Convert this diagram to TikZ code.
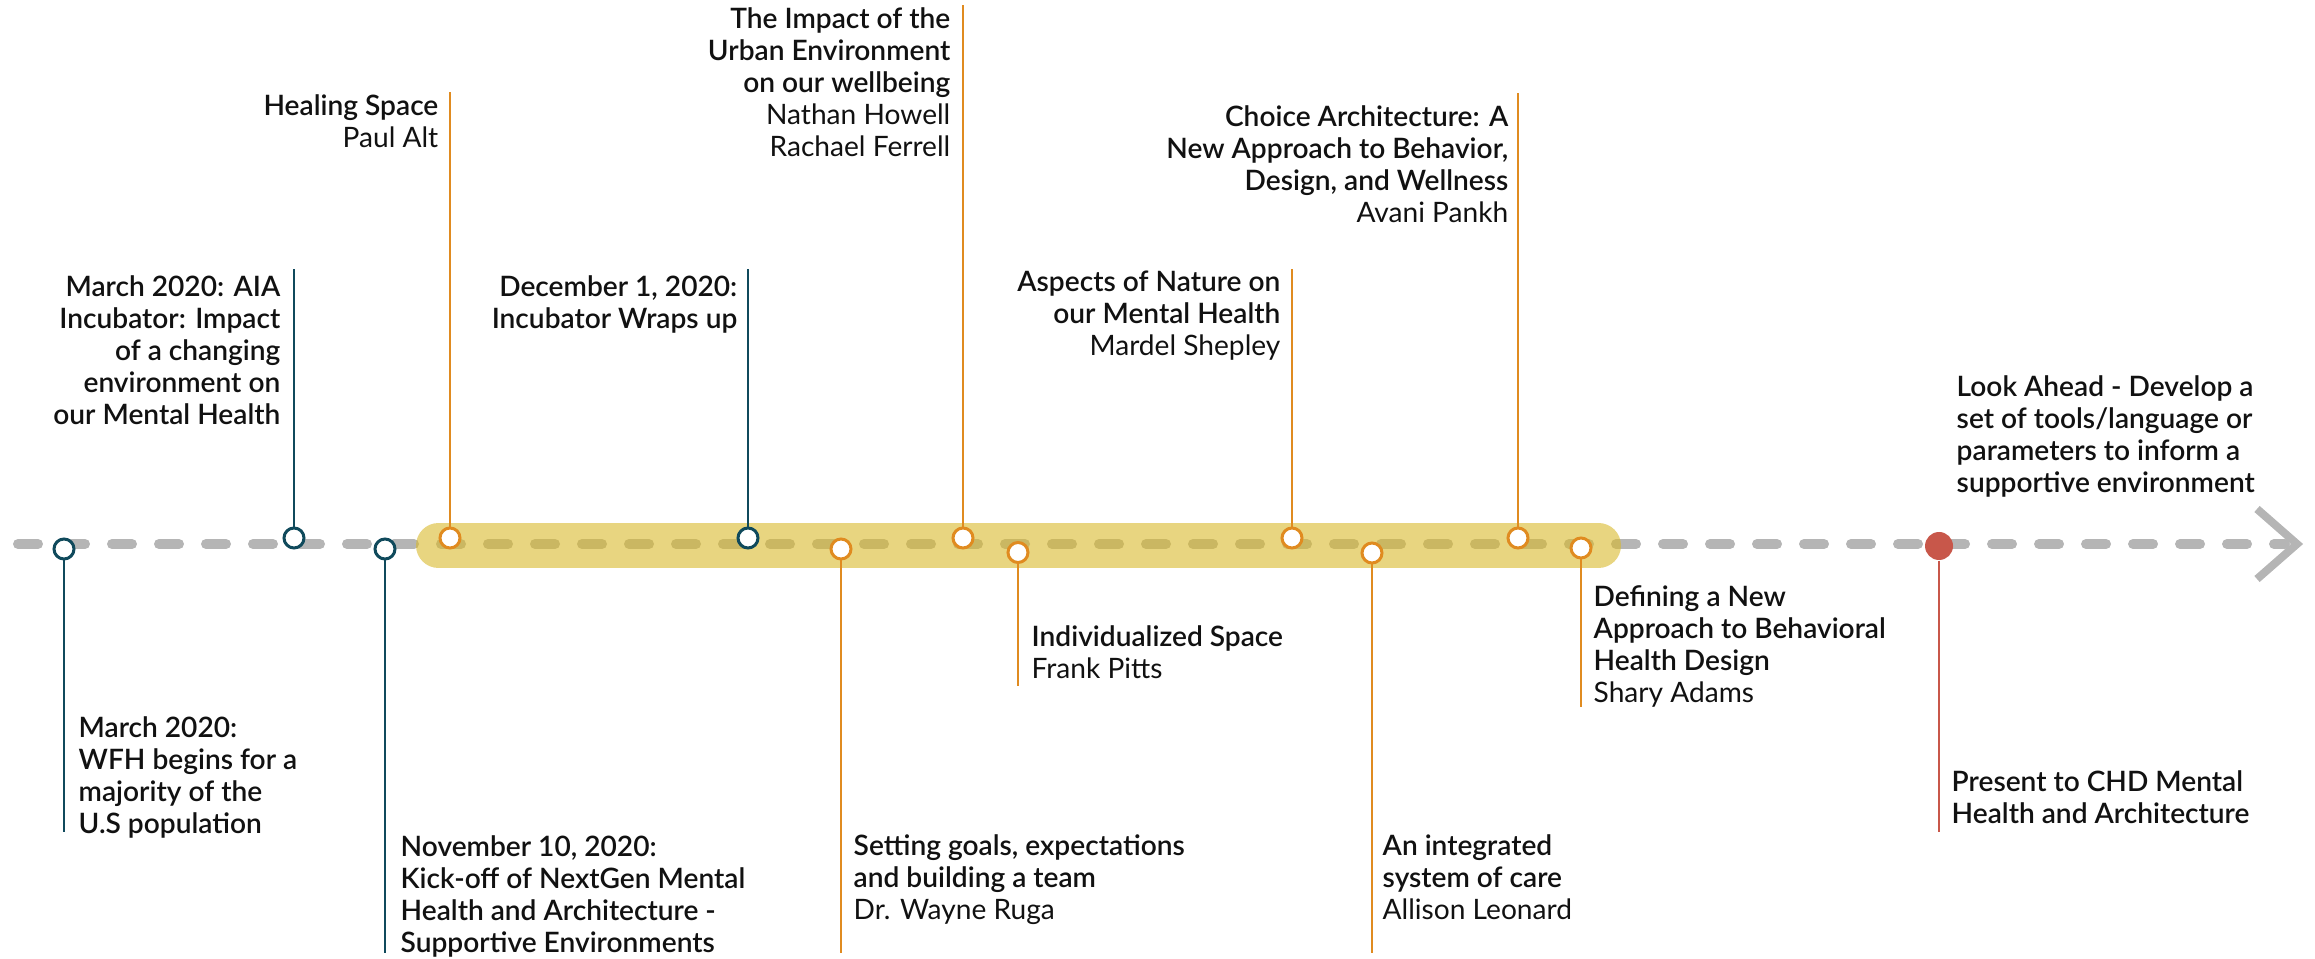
\documentclass[tikz,border=0pt]{standalone}
\usepackage{fontspec}
\setmainfont{Lato}
\newfontfamily\titlefont{Lato Semibold}
\newfontfamily\namefont{Lato}
\usetikzlibrary{positioning}
\definecolor{tlteal}{HTML}{104A5C}
\definecolor{tlorange}{HTML}{E08B20}
\definecolor{tlred}{HTML}{C8574A}
\definecolor{tlgray}{HTML}{B5B5B5}
\definecolor{tlband}{HTML}{D9B92B}
\definecolor{tlink}{HTML}{111111}
\newcommand{\who}[1]{{\namefont #1}}

\begin{document}
\begin{tikzpicture}[
  every node/.style={font=\titlefont\fontsize{8}{9.1}\selectfont, text=tlink, inner sep=0pt},
  dot/.style={circle, draw, fill=white, line width=0.85pt, minimum size=0.2cm},
  stem/.style={line width=0.8pt},
  uplabel/.style={anchor=north east, align=right},
  downlabel/.style={anchor=north west, align=left},
]
\useasboundingbox (0,0) rectangle (23.15,9.58);

% Timeline
\coordinate (tstart) at (0.18,4.14);
\coordinate (tend) at (22.85,4.14);
\draw[tlgray, line width=0.1cm, line cap=round, dash pattern=on 0.2cm off 0.27cm] (tstart) -- (tend);
\draw[tlgray, line width=0.08cm] (22.57,4.49) -- (22.97,4.14) -- (22.57,3.79);

% Highlighted period
\draw[tlband, opacity=0.6, line width=0.45cm, line cap=round] (4.385,4.125) -- (15.985,4.125);

% Stem ends
\coordinate (c1e) at (0.64,1.26);
\coordinate (c2e) at (2.94,6.89);
\coordinate (c3e) at (3.85,0.05);
\coordinate (c4e) at (4.50,8.66);
\coordinate (c5e) at (7.48,6.89);
\coordinate (c6e) at (8.41,0.05);
\coordinate (c7e) at (9.63,9.53);
\coordinate (c8e) at (10.18,2.72);
\coordinate (c9e) at (12.92,6.89);
\coordinate (c10e) at (13.72,0.05);
\coordinate (c11e) at (15.18,8.65);
\coordinate (c12e) at (15.81,2.51);
\coordinate (c13e) at (19.39,1.26);

% Events
\node[dot, draw=tlteal] (c1) at (0.64,4.09) {};
\node[dot, draw=tlteal] (c2) at (2.94,4.20) {};
\node[dot, draw=tlteal] (c3) at (3.85,4.09) {};
\node[dot, draw=tlorange] (c4) at (4.50,4.20) {};
\node[dot, draw=tlteal] (c5) at (7.48,4.20) {};
\node[dot, draw=tlorange] (c6) at (8.41,4.09) {};
\node[dot, draw=tlorange] (c7) at (9.63,4.20) {};
\node[dot, draw=tlorange] (c8) at (10.18,4.055) {};
\node[dot, draw=tlorange] (c9) at (12.92,4.20) {};
\node[dot, draw=tlorange] (c10) at (13.72,4.05) {};
\node[dot, draw=tlorange] (c11) at (15.18,4.20) {};
\node[dot, draw=tlorange] (c12) at (15.81,4.10) {};
\node[circle, fill=tlred, minimum size=0.28cm] (c13) at (19.39,4.12) {};

\draw[stem, tlteal] (c1) -- (c1e);
\draw[stem, tlteal] (c2) -- (c2e);
\draw[stem, tlteal] (c3) -- (c3e);
\draw[stem, tlorange] (c4) -- (c4e);
\draw[stem, tlteal] (c5) -- (c5e);
\draw[stem, tlorange] (c6) -- (c6e);
\draw[stem, tlorange] (c7) -- (c7e);
\draw[stem, tlorange] (c8) -- (c8e);
\draw[stem, tlorange] (c9) -- (c9e);
\draw[stem, tlorange] (c10) -- (c10e);
\draw[stem, tlorange] (c11) -- (c11e);
\draw[stem, tlorange] (c12) -- (c12e);
\draw[stem, tlred] (c13) -- (c13e);

% Labels above
\node[uplabel] (l2) at (2.81,6.83) {March 2020: AIA\\Incubator: Impact\\of a changing\\environment on\\our Mental Health};
\node[uplabel] (l4) at (4.39,8.64) {Healing Space\\\who{Paul Alt}};
\node[uplabel] (l5) at (7.38,6.83) {December 1, 2020:\\Incubator Wraps up};
\node[uplabel] (l7) at (9.51,9.51) {The Impact of the\\Urban Environment\\on our wellbeing\\\who{Nathan Howell}\\\who{Rachael Ferrell}};
\node[uplabel] (l9) at (12.81,6.88) {Aspects of Nature on\\our Mental Health\\\who{Mardel Shepley}};
\node[uplabel] (l11) at (15.09,8.53) {Choice Architecture: A\\New Approach to Behavior,\\Design, and Wellness\\\who{Avani Pankh}};

% Labels below
\node[downlabel] (l1) at (0.78,2.42) {March 2020:\\WFH begins for a\\majority of the\\U.S population};
\node[downlabel] (l3) at (4.00,1.23) {November 10, 2020:\\Kick-off of NextGen Mental\\Health and Architecture -\\Supportive Environments};
\node[downlabel] (l6) at (8.53,1.24) {Setting goals, expectations\\and building a team\\\who{Dr. Wayne Ruga}};
\node[downlabel] (l8) at (10.31,3.33) {Individualized Space\\\who{Frank Pitts}};
\node[downlabel] (l10) at (13.82,1.24) {An integrated\\system of care\\\who{Allison Leonard}};
\node[downlabel] (l12) at (15.93,3.73) {Defining a New\\Approach to Behavioral\\Health Design\\\who{Shary Adams}};
\node[downlabel] (l13) at (19.51,1.88) {Present to CHD Mental\\Health and Architecture};
\node[downlabel] (l14) at (19.56,5.83) {Look Ahead - Develop a\\set of tools/language or\\parameters to inform a\\supportive environment};

\end{tikzpicture}
\end{document}
